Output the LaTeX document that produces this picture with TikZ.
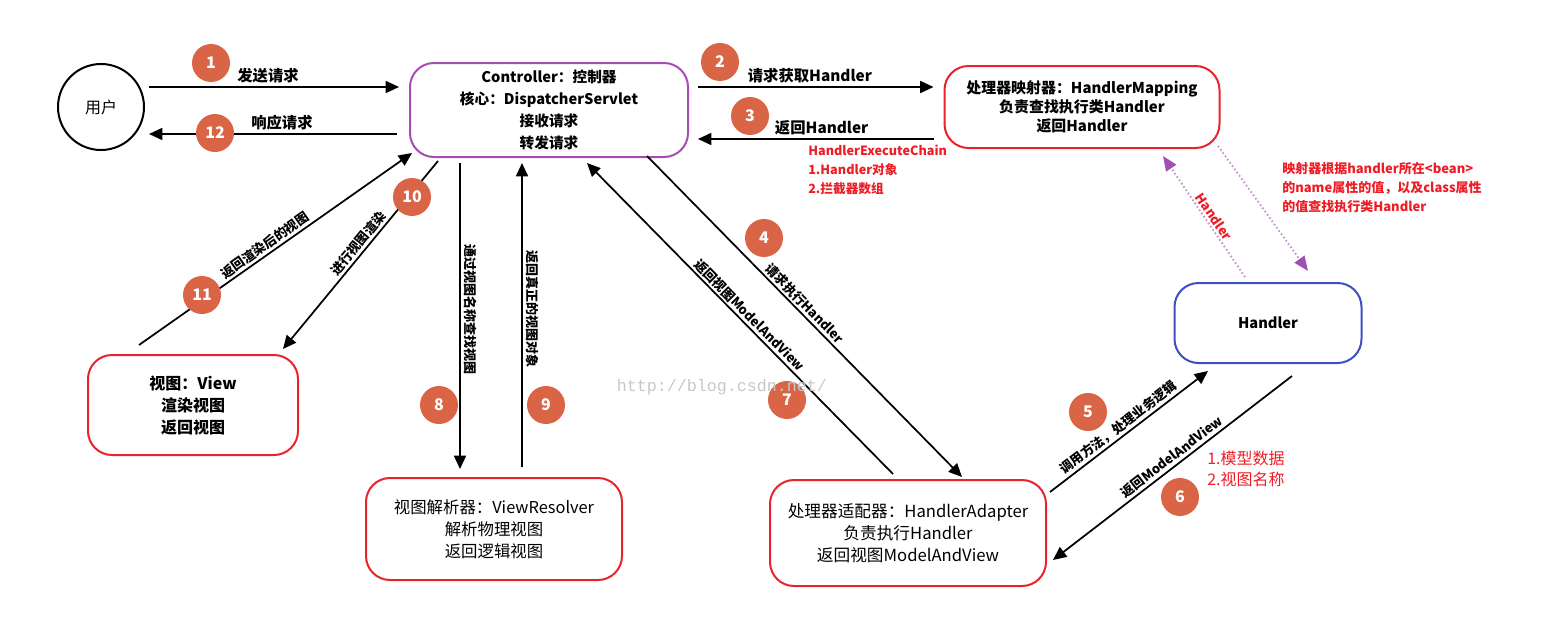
\documentclass[tikz,border=0pt]{standalone}
\usepackage{fontspec}
\setmainfont{Noto Sans CJK SC}
\setmonofont{Liberation Mono}
\usetikzlibrary{arrows.meta,calc}

\definecolor{ctrlpurple}{HTML}{A54DB3}
\definecolor{boxred}{HTML}{E8232C}
\definecolor{hdlblue}{HTML}{3E4FC6}
\definecolor{badge}{HTML}{DA6446}
\definecolor{notered}{HTML}{EE1C25}
\definecolor{dotline}{HTML}{C690D2}
\definecolor{dothead}{HTML}{A050B2}

\tikzset{
  box/.style={draw, line width=1.5pt, rounded corners=18pt, align=center,
    inner sep=0pt, fill=white},
  flow/.style={line width=1.3pt, -{Triangle[length=10pt,width=9pt]}},
  probe/.style={line width=1.4pt, dotline, dash pattern=on 1.2pt off 1.8pt,
    -{Triangle[length=11pt,width=9pt,color=dothead,fill=dothead]}},
  badgenum/.style={circle, fill=badge, minimum size=28.5pt, inner sep=0pt,
    text=white, font=\bfseries\fontsize{12}{12}\selectfont},
  hlbl/.style={above, inner sep=2pt, font=\bfseries\fontsize{11.5}{12}\selectfont},
  slbl/.style={sloped, above, inner sep=1.5pt, font=\bfseries\fontsize{9.75}{10}\selectfont},
  vlbl/.style={rotate=-90, anchor=south, inner sep=2.5pt, font=\bfseries\fontsize{9.75}{10}\selectfont},
  rednote/.style={text=notered, align=left, inner sep=0pt}
}

\begin{document}
\begin{tikzpicture}[x=0.75pt, y=-0.75pt]
\useasboundingbox (0,0) rectangle (1549,621);

% ---- participants ----
\node[draw, circle, line width=1.5pt, minimum size=64.5pt, inner sep=0pt,
  font=\fontsize{12}{13}\selectfont] (user) at (101,107) {用户};

\node[box, draw=ctrlpurple, minimum width=208.5pt, minimum height=70.5pt,
  font=\bfseries\fontsize{11}{16.5}\selectfont] (ctrl) at (549,110)
  {Controller：控制器\\核心：DispatcherServlet\\接收请求\\转发请求};

\node[box, draw=boxred, minimum width=206.25pt, minimum height=61.5pt,
  font=\bfseries\fontsize{11.2}{14.25}\selectfont] (hmap) at (1082,107)
  {处理器映射器：HandlerMapping\\负责查找执行类Handler\\返回Handler};

\node[box, draw=hdlblue, minimum width=140.25pt, minimum height=60pt,
  font=\bfseries\fontsize{11}{14}\selectfont] (hdl) at (1268,323) {Handler};

\node[box, draw=boxred, minimum width=157.5pt, minimum height=75pt,
  font=\bfseries\fontsize{12}{16.5}\selectfont] (view) at (193,405)
  {视图：View\\渲染视图\\返回视图};

\node[box, draw=boxred, minimum width=192pt, minimum height=76.5pt,
  font=\fontsize{12.3}{16.5}\selectfont] (vres) at (494,529)
  {视图解析器：ViewResolver\\解析物理视图\\返回逻辑视图};

\node[box, draw=boxred, minimum width=207pt, minimum height=79.5pt,
  font=\fontsize{12.5}{16.5}\selectfont] (hada) at (908,533)
  {处理器适配器：HandlerAdapter\\负责执行Handler\\返回视图ModelAndView};

% ---- connector end points ----
\coordinate (a1s)  at ([shift={(4,-20)}]user.east);
\coordinate (a1e)  at ([shift={(-10,-23)}]ctrl.west);
\coordinate (a12s) at ([shift={(-12,24)}]ctrl.west);
\coordinate (a12e) at ([shift={(4,27)}]user.east);
\coordinate (a2s)  at ([shift={(9,-23)}]ctrl.east);
\coordinate (a2e)  at ([shift={(-10,-20)}]hmap.west);
\coordinate (a3s)  at ([shift={(-10,32)}]hmap.west);
\coordinate (a3e)  at ([shift={(9,29)}]ctrl.east);
\coordinate (a4s)  at ([shift={(98,-2)}]ctrl.south);
\coordinate (a4e)  at ([shift={(54,-2)}]hada.north);
\coordinate (a7s)  at ([shift={(-15,-5)}]hada.north);
\coordinate (a7e)  at ([shift={(38,5)}]ctrl.south);
\coordinate (a8s)  at ([shift={(-89,5)}]ctrl.south);
\coordinate (a8e)  at ([shift={(-34,-8)}]vres.north);
\coordinate (a9s)  at ([shift={(28,-10)}]vres.north);
\coordinate (a9e)  at ([shift={(-27,5)}]ctrl.south);
\coordinate (a10s) at ([shift={(-111,3)}]ctrl.south);
\coordinate (a10e) at ([shift={(90,-5)}]view.north);
\coordinate (a11s) at ([shift={(-54,-9)}]view.north);
\coordinate (a11e) at ([shift={(-137,-5)}]ctrl.south);
\coordinate (a5s)  at ([shift={(3,-41)}]hada.east);
\coordinate (a5e)  at ([shift={(-60,7)}]hdl.south);
\coordinate (a6s)  at ([shift={(24,12)}]hdl.south);
\coordinate (a6e)  at ([shift={(6,27)}]hada.east);
\coordinate (pus)  at ([shift={(-23,-5)}]hdl.north);
\coordinate (pue)  at ([shift={(81,7)}]hmap.south);
\coordinate (pds)  at ([shift={(136,-3)}]hmap.south);
\coordinate (pde)  at ([shift={(40,-11)}]hdl.north);

% ---- request / response flow ----
\draw[flow] (a1s) -- (a1e) node[hlbl, pos=0.476] {发送请求};
\draw[flow] (a12s) -- (a12e) node[hlbl, pos=0.464] {响应请求};
\draw[flow] (a2s) -- (a2e) node[hlbl, pos=0.475] {请求获取Handler};
\draw[flow] (a3s) -- (a3e) node[hlbl, pos=0.475] {返回Handler};
\draw[flow] (a4s) -- (a4e) node[slbl, pos=0.48] {请求执行Handler};
\draw[flow] (a7s) -- (a7e) node[slbl, pos=0.49] {返回视图ModelAndView};
\draw[flow] (a8s) -- (a8e) node[vlbl, pos=0.48] {通过视图名称查找视图};
\draw[flow] (a9s) -- (a9e) node[vlbl, pos=0.52] {返回真正的视图对象};
\draw[flow] (a10s) -- (a10e) node[slbl, pos=0.47] {进行视图渲染};
\draw[flow] (a11s) -- (a11e) node[slbl, pos=0.48] {返回渲染后的视图};
\draw[flow] (a5s) -- (a5e) node[slbl, pos=0.47] {调用方法，处理业务逻辑};
\draw[flow] (a6s) -- (a6e) node[slbl, pos=0.48] {返回ModelAndView};

% ---- mapping lookup (dotted) ----
\draw[probe] (pus) -- (pue)
  node[slbl, pos=0.46, text=notered] {Handler};
\draw[probe] (pds) -- (pde);

% ---- step badges ----
\node[badgenum] (b1)  at (211,63)  {1};
\node[badgenum] (b2)  at (720,62)  {2};
\node[badgenum] (b3)  at (750,116) {3};
\node[badgenum] (b4)  at (764,238) {4};
\node[badgenum] (b5)  at (1088,412) {5};
\node[badgenum] (b6)  at (1180,497) {6};
\node[badgenum] (b7)  at (787,400) {7};
\node[badgenum] (b8)  at (439,405) {8};
\node[badgenum] (b9)  at (546,405) {9};
\node[badgenum] (b10) at (412,197) {10};
\node[badgenum] (b11) at (202,295) {11};
\node[badgenum] (b12) at (215,133) {12};

% ---- notes ----
\node[rednote, anchor=west, font=\bfseries\fontsize{9.5}{14.25}\selectfont]
  (chain) at (808,170) {HandlerExecuteChain\\1.Handler对象\\2.拦截器数组};
\node[rednote, anchor=west, font=\bfseries\fontsize{9.75}{14.25}\selectfont]
  (lookup) at (1282,188) {映射器根据handler所在<bean>\\的name属性的值，以及class属性\\的值查找执行类Handler};
\node[rednote, anchor=west, font=\fontsize{12}{15.5}\selectfont]
  (mav) at (1207,469) {1.模型数据\\2.视图名称};

\node[text=black!22, font=\ttfamily\fontsize{12.5}{13}\selectfont] (wm) at (722,387)
  {http://blog.csdn.net/};
\end{tikzpicture}
\end{document}
